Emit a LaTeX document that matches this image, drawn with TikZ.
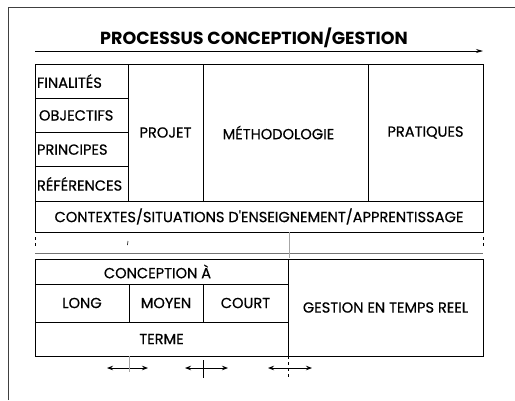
\documentclass[tikz,border=0pt]{standalone}
\usepackage{fontspec}
\setmainfont{Poppins}
\newfontfamily\cellfont{Poppins}[FakeBold=0.6]
\usetikzlibrary{arrows.meta}

\begin{document}
\begin{tikzpicture}[x=1pt, y=-1pt,
	cell/.style={draw, line width=0.9pt, inner sep=2pt, font=\cellfont\fontsize{14.6}{16}\selectfont},
	leftcell/.style={cell, minimum width=93pt, minimum height=34.25pt, text width=89pt, align=left},
	twoway/.style={{Stealth[length=6pt,width=4.5pt]}-{Stealth[length=6pt,width=4.5pt]}, line width=0.8pt}]
	\useasboundingbox (0,0) rectangle (515,400);

	% open frame
	\draw[line width=1pt, black!75] (8,400) -- (8,7) -- (515,7);

	% title and process arrow
	\node[font=\bfseries\fontsize{17.5}{20}\selectfont] at (254,38) (title) {PROCESSUS CONCEPTION/GESTION};
	\coordinate (proc-start) at (35,51);
	\coordinate (proc-end) at (483,51);
	\draw[-{Stealth[length=7pt,width=4pt]}, line width=0.8pt] (proc-start) to (proc-end);

	% upper table
	\node[leftcell] at (81.5,81.1) (finalites) {FINALITÉS};
	\node[leftcell] at (81.5,115.4) (objectifs) {\hspace*{2pt}OBJECTIFS};
	\node[leftcell] at (81.5,149.6) (principes) {PRINCIPES};
	\node[leftcell] at (81.5,183.9) (references) {RÉFÉRENCES};
	\node[cell, minimum width=75pt, minimum height=137pt] at (165.5,132.5) (projet) {PROJET};
	\node[cell, minimum width=165pt, minimum height=137pt] at (285.5,132.5) (methodologie) {\hspace*{-14pt}MÉTHODOLOGIE};
	\node[cell, minimum width=115pt, minimum height=137pt] at (425.5,132.5) (pratiques) {PRATIQUES};
	\node[cell, minimum width=448pt, minimum height=31pt] at (259,216.5) (contextes) {\raisebox{-2pt}{CONTEXTES/SITUATIONS D'ENSEIGNEMENT/APPRENTISSAGE}};

	% blank band
	\draw[black!55, line width=0.6pt] (35,253) -- (483,253);
	\draw[black!35, line width=0.8pt] (289,232) -- (289,258);
	\draw[line width=0.6pt] (128,241) -- (127.5,245);
	\draw[dashed, line width=0.6pt] (35,237) -- (35,248);
	\draw[dashed, line width=0.6pt] (483,237) -- (483,248);

	% lower table
	\node[cell, minimum width=253pt, minimum height=25pt] at (161.5,271.5) (conception) {\hspace*{-8pt}CONCEPTION À};
	\node[cell, minimum width=94pt, minimum height=38pt] at (82,303) (long) {LONG};
	\node[cell, minimum width=74pt, minimum height=38pt] at (166,303) (moyen) {MOYEN};
	\node[cell, minimum width=85pt, minimum height=38pt] at (245.5,303) (court) {COURT};
	\node[cell, minimum width=253pt, minimum height=34pt] at (161.5,339) (terme) {TERME};
	\node[cell, minimum width=195pt, minimum height=97pt] at (385.5,307.5) (gestion) {GESTION EN TEMPS REEL};

	% time spans under the table
	\coordinate (span-a-l) at (107,368);
	\coordinate (span-a-r) at (148,368);
	\coordinate (span-b-l) at (185,368);
	\coordinate (span-b-r) at (228,368);
	\coordinate (span-c-l) at (268,368);
	\coordinate (span-c-r) at (312,368);
	\draw[twoway] (span-a-l) to (span-a-r);
	\draw[twoway] (span-b-l) to (span-b-r);
	\draw[twoway] (span-c-l) to (span-c-r);
	\draw[black!35, line width=0.7pt] (129,356) -- (129,372);
	\draw[line width=0.6pt] (203,360) -- (203,378);
	\draw[dashed, line width=0.6pt] (288,356) -- (288,378);
\end{tikzpicture}
\end{document}
